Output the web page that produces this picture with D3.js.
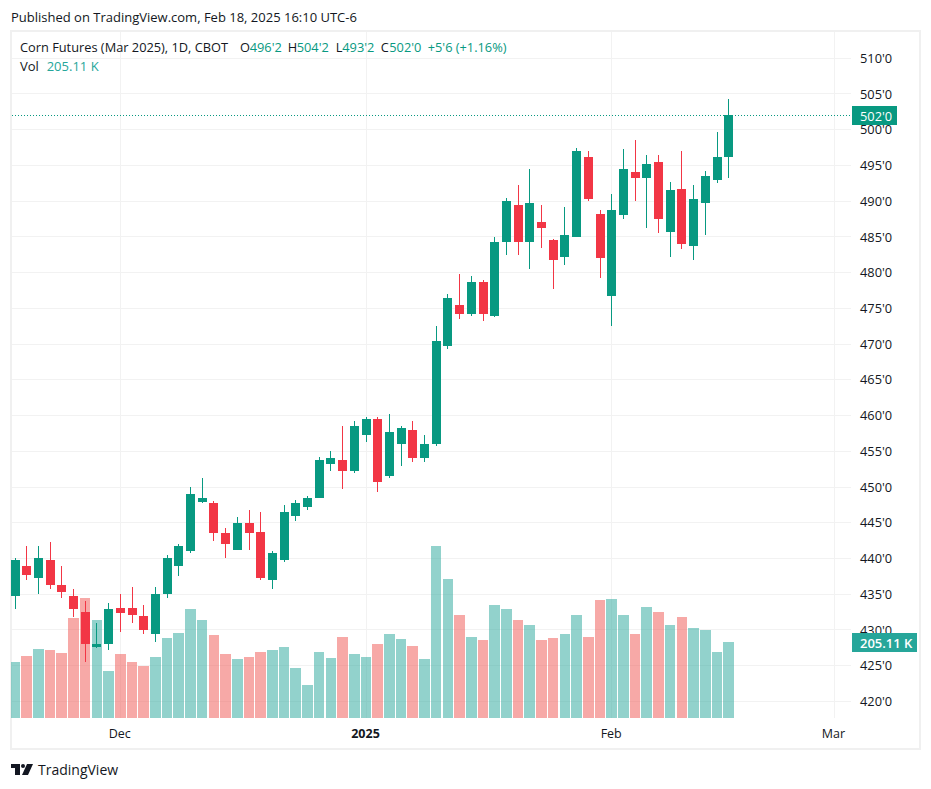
<!DOCTYPE html>
<html>
<head>
<meta charset="utf-8">
<script src="https://cdn.jsdelivr.net/npm/d3@7"></script>
<style>
  body { margin: 0; background: #fff; }
  svg { display: block; }
  text { font-family: "Open Sans", "Noto Sans", sans-serif; }
</style>
</head>
<body>
<svg id="chart" width="931" height="789"></svg>
<script>
// daily candles, prices in cents
var opens = [434.75,439,437.25,439.75,436.25,434.75,432.5,427.65,428,433.1,433.1,432,429.5,435,439,441,447.95,447.75,443.5,441.25,
    445,443.75,437,439.75,446,447.25,448.5,453.25,453.75,452.25,457.25,459.5,451.5,456,458,454,456,469.75,475.5,474.25,
    478.75,474,484.25,489.5,484.25,487.05,484.5,482.25,485,496.25,488.25,476.75,488,494.1,493.25,495.5,485.75,491.75,483.75,489.75,493,496.25];
var highs = [440,441.75,441.75,442.25,439,435.75,434,431,433.75,435,436,433.5,436,440.5,442,450,451.25,448,444.25,445.75,
    446.75,446.5,441,447.5,448.25,448.75,454.25,455,458.5,459.25,459.75,459.75,460.25,458.5,459.25,457.25,472.5,477,479.75,479.5,
    479,485,490.5,492.25,494.5,489.5,484.75,489.25,497.5,497,488.75,491,497.25,498.5,496.5,496.5,492.75,497,492.25,494.25,499.75,504.25];
var lows = [433,437,435,435.75,434.5,431.75,425.5,427.5,427.25,429.75,431,429.5,428.25,434.5,437.5,440.75,447.75,442.5,440,441.25,
    441.25,437,435.75,439.5,445.25,446.75,448.5,452.25,449.75,452,456.25,449.25,451.25,453,453.5,453.5,455.75,469.25,473.5,474,
    473.25,473.75,482.5,482.5,480.5,483.5,477.75,481,485,490,479.25,472.5,487.5,490,486.25,485.5,482.25,483.25,481.75,485.25,492.5,493.25];
var closes = [439.75,437.75,440,436.25,435.25,433,428,428.05,433,432.4,432.1,430,435,440,441.75,449,448.4,443.5,442,445,
    443.5,437.25,440.75,446.5,447.75,448.5,453.75,454.1,452.25,458.5,459.5,450.75,457.75,458.25,454,456,470.5,476.5,474.25,478.75,
    474.25,484.25,490,484.25,489.75,486.3,481.75,485.25,497,490.25,482,488.75,494.5,493.25,495.25,487.5,491.5,484,490.25,493.5,496.25,502];
// volume in thousands
var volumes = [151,167,186,184,175,270,324,264,127,173,151,140,165,216,229,294,264,224,173,159,
    165,178,184,192,135,89,178,162,219,173,165,200,227,213,194,159,464,375,278,219,
    211,305,294,264,251,211,216,227,278,219,318,321,278,227,300,286,251,273,243,238,178,205.11];

var priceTicks = [420,425,430,435,440,445,450,455,460,465,470,475,480,485,490,495,500,505,510];
var timeTicks = [9, 30, 51, 70];
var timeLabels = ["Dec", "2025", "Feb", "Mar"];

var upColor = "#089981", downColor = "#f23645";
var volUp = "#26a69a", volDown = "#ef5350";
var gridColor = "#f2f2f2", frameColor = "#f0f0f0", textColor = "#131722";

var svg = d3.select("#chart");

var x = d3.scaleLinear().domain([0, opens.length - 1]).range([15, 728.7]);
var y = d3.scaleLinear().domain([420, 510]).range([701.4, 58.26]);
var yVol = d3.scaleLinear().domain([0, d3.max(volumes)]).range([718, 546]);

svg.append("clipPath").attr("id", "pane")
    .append("rect").attr("x", 11).attr("y", 32).attr("width", 840).attr("height", 686);

// grid
var grid = svg.append("g");
grid.selectAll("rect.h").data(priceTicks).enter().append("rect")
    .attr("class", "h")
    .attr("x", 12).attr("width", 839)
    .attr("y", function(d){ return Math.floor(y(d)); })
    .attr("height", 1)
    .attr("fill", gridColor);
grid.selectAll("rect.v").data(timeTicks).enter().append("rect")
    .attr("class", "v")
    .attr("x", function(d){ return Math.floor(x(d)); })
    .attr("width", 1)
    .attr("y", 32).attr("height", 686)
    .attr("fill", gridColor);

// frame
svg.append("rect")
    .attr("x", 11).attr("y", 31).attr("width", 909).attr("height", 718)
    .attr("fill", "none").attr("stroke", frameColor).attr("stroke-width", 2);

var pane = svg.append("g").attr("clip-path", "url(#pane)");

// volume
pane.selectAll("rect.vol").data(volumes).enter().append("rect")
    .attr("class", "vol")
    .attr("x", function(d, i){ return Math.round(x(i) - 5.35); })
    .attr("width", function(d, i){ return Math.round(x(i) + 5.25) - Math.round(x(i) - 5.35); })
    .attr("y", function(d){ return Math.round(yVol(d)); })
    .attr("height", function(d){ return 718 - Math.round(yVol(d)); })
    .attr("fill", function(d, i){ return closes[i] >= opens[i] ? volUp : volDown; })
    .attr("fill-opacity", 0.5);

// candles
var candle = pane.selectAll("g.candle").data(opens).enter().append("g").attr("class", "candle")
    .attr("fill", function(d, i){ return closes[i] >= opens[i] ? upColor : downColor; });
candle.append("rect")
    .attr("x", function(d, i){ return Math.floor(x(i)); })
    .attr("width", 1)
    .attr("y", function(d, i){ return Math.round(y(highs[i])); })
    .attr("height", function(d, i){ return Math.round(y(lows[i])) - Math.round(y(highs[i])); });
candle.append("rect")
    .attr("x", function(d, i){ return Math.floor(x(i)) - 4; })
    .attr("width", 9)
    .attr("y", function(d, i){ return Math.round(y(Math.max(d, closes[i]))); })
    .attr("height", function(d, i){ return Math.max(1, Math.round(y(Math.min(d, closes[i]))) - Math.round(y(Math.max(d, closes[i])))); });

// last price line
var last = closes[closes.length - 1];
svg.append("line")
    .attr("x1", 12).attr("x2", 851)
    .attr("y1", Math.floor(y(last)) + 0.5).attr("y2", Math.floor(y(last)) + 0.5)
    .attr("stroke", upColor).attr("stroke-dasharray", "1,2");

// price axis
var priceAxis = svg.append("g")
    .attr("transform", "translate(851,0)")
    .call(d3.axisRight(y).tickValues(priceTicks).tickSize(0).tickPadding(9)
        .tickFormat(function(d){ return d + "'0"; }));
priceAxis.select(".domain").remove();
priceAxis.selectAll("text")
    .attr("fill", textColor).attr("font-size", 12.8)
    .style("font-family", '"Open Sans", sans-serif');

// time axis
var timeAxis = svg.append("g")
    .attr("transform", "translate(0,718)")
    .call(d3.axisBottom(x).tickValues(timeTicks).tickSize(0).tickPadding(11)
        .tickFormat(function(d, i){ return timeLabels[i]; }));
timeAxis.select(".domain").remove();
timeAxis.selectAll("text")
    .attr("fill", textColor).attr("font-size", 12.5)
    .attr("dx", -1)
    .style("font-family", '"Open Sans", sans-serif')
    .attr("font-weight", function(d){ return d == 30 ? "bold" : "normal"; });

// price and volume tags
svg.append("rect").attr("x", 852).attr("y", 106).attr("width", 45).attr("height", 19).attr("fill", upColor);
svg.append("text").attr("x", 860).attr("y", 120.5).attr("fill", "#fff").attr("font-size", 12.8).text("502'0");
svg.append("rect").attr("x", 852).attr("y", 633).attr("width", 65).attr("height", 19).attr("fill", volUp);
svg.append("text").attr("x", 860).attr("y", 647.5).attr("fill", "#fff").attr("font-size", 13).attr("font-weight", 600).text("205.11 K");

// header
svg.append("text").attr("x", 11).attr("y", 22).attr("fill", textColor).attr("font-size", 13)
    .text("Published on TradingView.com, Feb 18, 2025 16:10 UTC-6");

var legend = [
    [20, "Corn Futures (Mar 2025), 1D, CBOT", textColor],
    [240, "O", textColor], [249.7, "496'2", upColor],
    [287.7, "H", textColor], [296.7, "504'2", upColor],
    [335.7, "L", textColor], [342.3, "493'2", upColor],
    [380.7, "C", textColor], [389.3, "502'0", upColor],
    [427.7, "+5'6 (+1.16%)", upColor]
];
svg.selectAll("text.legend").data(legend).enter().append("text")
    .attr("class", "legend")
    .attr("x", function(d){ return d[0]; })
    .attr("y", 52)
    .attr("fill", function(d){ return d[2]; })
    .attr("font-size", 12.8)
    .text(function(d){ return d[1]; });
svg.append("text").attr("x", 20).attr("y", 71).attr("fill", textColor).attr("font-size", 13).text("Vol");
svg.append("text").attr("x", 46.7).attr("y", 71).attr("fill", volUp).attr("font-size", 13).text("205.11 K");

// logo
var logo = svg.append("g").attr("fill", "#131722");
logo.append("path").attr("d", "M11 764H20V775H15V768H11Z");
logo.append("circle").attr("cx", 23).attr("cy", 766).attr("r", 2);
logo.append("path").attr("d", "M27 764H33L28 775H22Z");
svg.append("text").attr("x", 38).attr("y", 775).attr("fill", textColor).attr("font-size", 14).text("TradingView");
</script>
</body>
</html>
